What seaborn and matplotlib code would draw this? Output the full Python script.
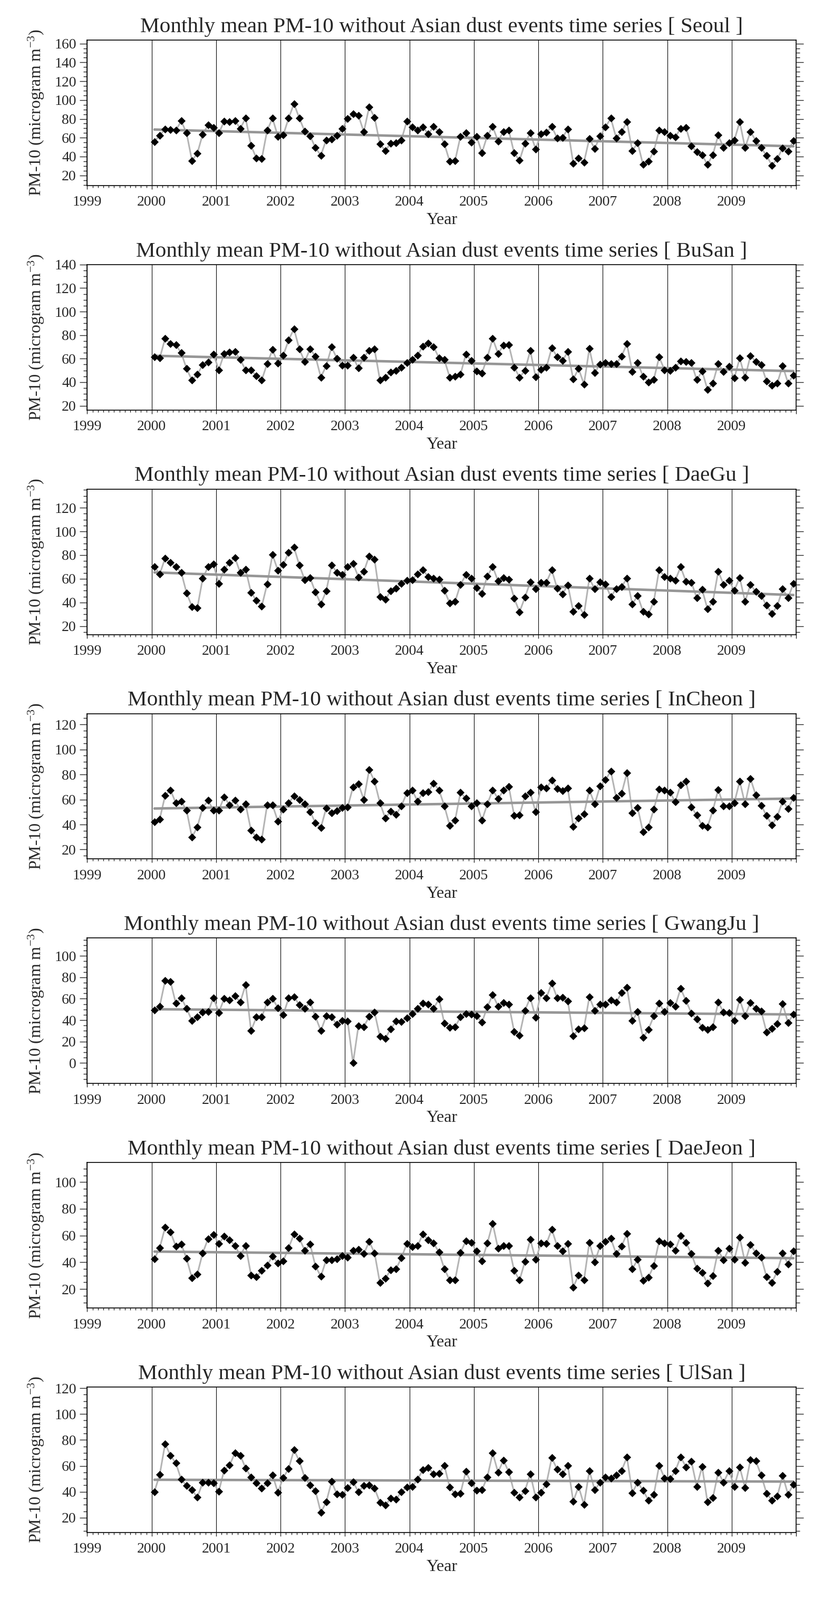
import numpy as np
import matplotlib
matplotlib.use('Agg')
import matplotlib.pyplot as plt
from matplotlib.ticker import MultipleLocator
import seaborn as sns

# monthly means, Jan 2000 - Dec 2009
seoul = [55.9, 62.4, 69.3, 68.4, 67.7, 77.8, 64.9, 35.7, 43.4, 63.7, 73.6, 70.5,
         64.9, 77.4, 77.0, 78.1, 69.9, 80.7, 51.6, 38.3, 37.6, 67.7, 80.7, 61.5,
         62.8, 80.7, 96.1, 80.7, 66.7, 61.9, 49.3, 41.3, 57.6, 58.7, 62.1, 69.5,
         80.2, 85.2, 83.7, 66.2, 92.7, 81.5, 53.5, 46.2, 54.0, 54.4, 57.6, 77.4,
         71.4, 68.0, 71.4, 63.9, 71.8, 66.5, 53.5, 34.8, 35.7, 61.3, 64.9, 55.0,
         61.5, 44.1, 62.1, 71.8, 56.4, 66.5, 67.7, 43.7, 35.9, 54.0, 64.9, 48.0,
         64.3, 65.8, 71.8, 59.6, 60.2, 69.3, 32.9, 38.1, 34.0, 59.1, 48.4, 61.7,
         71.2, 80.7, 59.8, 66.2, 76.8, 46.2, 54.4, 31.4, 34.8, 45.6, 68.0, 66.2,
         62.1, 60.6, 69.9, 70.5, 51.2, 45.0, 41.5, 31.6, 41.9, 62.8, 49.3, 54.6,
         57.4, 76.8, 49.3, 66.5, 56.8, 49.3, 40.9, 30.7, 37.8, 49.0, 45.6, 56.8]

busan = [61.3, 60.4, 77.2, 72.8, 71.7, 64.9, 51.5, 41.6, 46.5, 54.8, 56.9, 63.9,
         50.5, 64.3, 65.3, 66.1, 59.1, 50.3, 50.3, 45.3, 41.9, 55.7, 67.6, 56.0,
         62.7, 75.8, 85.4, 68.0, 57.5, 68.3, 61.9, 44.2, 53.9, 69.8, 60.1, 54.2,
         54.2, 61.2, 52.0, 61.2, 66.8, 68.0, 41.9, 44.2, 48.6, 49.7, 52.7, 56.7,
         59.4, 62.8, 70.5, 73.2, 70.1, 60.6, 59.1, 44.2, 45.0, 46.5, 63.6, 58.4,
         49.3, 47.8, 60.9, 77.2, 64.3, 71.3, 71.6, 52.7, 44.2, 49.7, 66.8, 44.4,
         50.8, 52.7, 69.1, 61.6, 58.4, 65.8, 42.6, 51.5, 38.2, 68.6, 48.0, 55.4,
         56.4, 55.7, 55.7, 62.1, 72.5, 49.0, 56.4, 45.0, 39.8, 42.3, 61.3, 50.5,
         49.7, 52.7, 57.9, 57.5, 56.4, 42.0, 49.5, 33.7, 39.3, 55.7, 49.0, 53.2,
         43.5, 60.4, 43.8, 62.4, 57.5, 54.7, 40.8, 37.1, 39.3, 53.9, 39.3, 46.0]

daegu = [70.4, 64.0, 77.4, 73.7, 70.0, 65.5, 48.1, 36.5, 35.3, 60.3, 70.0, 72.2,
         55.8, 68.0, 73.7, 77.9, 65.1, 68.0, 48.4, 41.7, 36.8, 55.5, 80.4, 67.0,
         71.9, 82.3, 86.6, 71.5, 59.1, 60.7, 48.7, 38.7, 49.6, 71.5, 65.5, 63.6,
         70.0, 72.9, 61.5, 66.0, 79.3, 76.4, 44.7, 42.4, 49.6, 51.8, 56.1, 58.5,
         59.1, 64.0, 67.4, 61.8, 60.3, 59.6, 50.2, 39.5, 40.7, 55.1, 63.3, 60.3,
         52.4, 47.4, 62.2, 70.3, 58.1, 61.0, 59.6, 43.6, 32.0, 44.2, 57.3, 51.7,
         57.0, 57.0, 67.4, 52.1, 47.2, 54.6, 32.3, 37.2, 29.8, 60.3, 51.4, 57.3,
         55.4, 44.7, 51.7, 53.3, 60.3, 38.7, 45.7, 32.3, 30.2, 40.7, 67.7, 61.8,
         60.6, 58.8, 70.0, 57.6, 57.0, 43.9, 50.9, 34.6, 40.7, 66.3, 55.1, 58.4,
         50.2, 61.0, 40.7, 55.1, 49.1, 45.7, 37.5, 30.5, 37.2, 51.4, 43.9, 55.8]

incheon = [41.9, 44.4, 63.1, 67.6, 57.1, 58.5, 51.4, 29.7, 38.1, 53.5, 59.2, 51.4,
           51.4, 62.0, 55.6, 59.2, 52.1, 56.3, 35.3, 29.7, 28.3, 55.4, 55.6, 42.7,
           52.1, 57.1, 62.9, 59.9, 56.3, 50.3, 41.3, 37.4, 53.1, 49.3, 51.0, 53.5,
           54.0, 70.0, 72.5, 59.9, 83.7, 74.6, 57.3, 45.1, 50.7, 47.9, 54.9, 65.1,
           67.6, 58.7, 65.1, 66.2, 72.8, 67.6, 54.9, 39.1, 43.4, 65.5, 61.0, 54.9,
           57.1, 43.3, 56.3, 67.6, 60.6, 67.2, 70.4, 47.2, 47.5, 62.7, 65.5, 50.0,
           70.0, 69.0, 75.6, 68.6, 66.9, 69.0, 38.4, 45.1, 48.3, 67.6, 56.3, 70.8,
           75.7, 82.6, 61.5, 64.8, 81.3, 49.3, 53.5, 33.9, 38.1, 52.1, 68.3, 67.6,
           65.9, 58.2, 71.8, 74.6, 54.0, 47.5, 39.1, 38.1, 51.2, 68.0, 54.9, 54.9,
           57.3, 74.6, 56.3, 76.7, 63.4, 55.2, 47.2, 39.5, 46.5, 58.7, 52.8, 61.5]

gwangju = [49.4, 53.1, 76.9, 76.1, 55.6, 60.9, 51.0, 39.5, 42.8, 47.4, 47.7, 60.9,
           47.1, 60.0, 58.9, 62.5, 56.9, 73.2, 30.1, 42.8, 42.8, 56.9, 60.2, 51.5,
           44.9, 60.5, 61.7, 54.3, 51.0, 56.9, 43.3, 30.1, 43.8, 42.8, 35.9, 39.7,
           38.9, 0.0, 34.6, 33.9, 43.3, 47.4, 24.7, 22.8, 31.8, 38.9, 38.7, 42.1,
           46.2, 51.0, 55.9, 54.8, 51.0, 59.7, 37.2, 33.4, 33.8, 42.8, 46.1, 45.7,
           43.8, 37.9, 52.3, 63.8, 53.1, 56.1, 54.8, 29.3, 26.0, 49.0, 60.9, 42.5,
           65.8, 60.9, 74.5, 60.9, 61.0, 57.6, 25.2, 31.8, 32.6, 61.7, 49.0, 54.8,
           54.8, 58.9, 56.7, 65.5, 70.7, 39.5, 47.7, 23.6, 31.3, 43.8, 55.6, 47.7,
           56.1, 53.1, 69.6, 58.1, 46.6, 40.8, 33.4, 31.0, 33.9, 56.7, 47.4, 47.1,
           39.7, 59.2, 44.1, 56.4, 50.7, 48.5, 28.8, 32.1, 36.4, 55.1, 37.5, 45.7]

daejeon = [42.4, 50.9, 66.1, 62.5, 52.0, 53.6, 42.8, 28.2, 31.2, 47.0, 57.5, 60.8,
           53.8, 59.5, 56.8, 52.5, 45.0, 52.5, 30.5, 29.2, 33.8, 37.8, 44.6, 39.3,
           41.1, 50.7, 61.1, 57.8, 48.9, 53.6, 37.1, 29.5, 41.7, 41.7, 42.6, 45.0,
           43.9, 48.9, 49.6, 46.3, 55.5, 47.0, 24.6, 27.9, 34.1, 34.9, 43.3, 53.8,
           51.6, 52.2, 61.1, 56.8, 54.2, 47.6, 35.1, 26.8, 26.8, 47.4, 55.8, 54.9,
           48.3, 41.1, 54.2, 69.1, 50.3, 52.2, 52.2, 33.8, 26.6, 40.4, 57.2, 42.0,
           54.2, 53.8, 64.7, 52.2, 48.6, 53.8, 21.3, 30.5, 26.6, 54.9, 40.1, 52.2,
           55.5, 57.8, 46.3, 52.0, 61.4, 35.1, 42.0, 26.3, 28.6, 37.5, 55.8, 54.2,
           53.6, 48.9, 59.9, 54.9, 46.3, 35.4, 32.2, 24.3, 29.9, 48.9, 41.7, 50.3,
           42.0, 58.6, 39.7, 53.3, 47.0, 43.7, 29.2, 24.9, 33.2, 46.7, 38.7, 48.6]

ulsan = [40.0, 53.3, 77.0, 68.0, 62.1, 49.6, 44.7, 41.5, 35.7, 47.2, 47.2, 46.8,
         40.4, 56.7, 60.5, 69.9, 68.0, 58.3, 51.3, 46.8, 42.7, 46.8, 53.0, 39.7,
         50.9, 57.8, 72.3, 63.7, 50.9, 45.2, 40.8, 24.1, 32.0, 47.9, 38.1, 37.7,
         43.1, 47.6, 40.0, 44.7, 45.2, 42.7, 31.9, 29.6, 35.0, 34.3, 40.0, 43.5,
         43.8, 49.5, 57.0, 58.7, 53.7, 54.0, 60.4, 43.4, 38.4, 38.8, 55.7, 46.8,
         41.1, 41.4, 51.3, 69.9, 55.1, 64.4, 55.3, 39.7, 35.7, 40.8, 53.7, 35.9,
         39.7, 46.2, 66.2, 57.4, 53.6, 60.4, 32.7, 44.1, 30.0, 56.3, 41.4, 47.2,
         51.3, 50.3, 52.9, 56.3, 66.6, 39.3, 47.2, 41.1, 33.6, 37.7, 60.4, 50.6,
         49.9, 56.0, 66.9, 59.1, 63.5, 44.1, 59.4, 32.0, 35.3, 55.1, 47.2, 56.0,
         44.1, 59.1, 43.1, 64.8, 63.7, 52.9, 38.8, 33.6, 36.6, 52.6, 38.0, 45.8]

cities = ['Seoul', 'BuSan', 'DaeGu', 'InCheon', 'GwangJu', 'DaeJeon', 'UlSan']
series = [seoul, busan, daegu, incheon, gwangju, daejeon, ulsan]
ylims = [(9.2, 163.7), (16.3, 140), (12.9, 135.8), (12.4, 128.7),
         (-19.2, 116.7), (5.8, 114.6), (8.6, 120.8)]
ytick_top = [160, 140, 120, 120, 100, 100, 120]
ytick_bottom = [20, 20, 20, 20, 0, 20, 20]
years = list(range(1999, 2011))

month_idx = np.arange(120)
t = 2000 + (month_idx + 0.5) / 12.0

sns.set_style('ticks')
plt.rcParams['font.family'] = ['Liberation Serif', 'DejaVu Serif']
plt.rcParams['mathtext.fontset'] = 'custom'
plt.rcParams['mathtext.rm'] = 'Liberation Serif'
plt.rcParams['mathtext.default'] = 'regular'

fig, axes = plt.subplots(7, 1, figsize=(15.61, 30.35), dpi=100)
fig.subplots_adjust(left=0.106, right=0.9673, top=0.97496, bottom=0.04217, hspace=0.543)

for ax, city, vals, yl, ytop, ybot in zip(axes, cities, series, ylims, ytick_top, ytick_bottom):
    vals = np.array(vals)
    sns.lineplot(x=t, y=vals, ax=ax, color='#b4b4b4', lw=2.2, zorder=2)
    sns.regplot(x=t, y=vals, ax=ax, scatter=False, ci=None, truncate=True,
                line_kws={'color': '#969696', 'lw': 3.4, 'zorder': 3})
    sns.scatterplot(x=t, y=vals, ax=ax, marker='D', s=50, color='black',
                    edgecolor='black', linewidth=0.6, zorder=4)

    ax.set_xlim(1999, 2010)
    ax.set_ylim(*yl)
    ax.set_xticks(years, labels=[str(y) for y in years[:-1]] + [''])
    ax.xaxis.set_minor_locator(MultipleLocator(1 / 12))
    ax.set_yticks(list(range(ybot, ytop + 1, 20)))
    ax.yaxis.set_minor_locator(MultipleLocator(5))
    ax.grid(axis='x', which='major', color='black', lw=0.8)

    ax.tick_params(which='both', direction='out', right=True, top=False, labelsize=20, width=1.0)
    ax.tick_params(axis='y', which='major', length=10, pad=5)
    ax.tick_params(axis='y', which='minor', length=5)
    ax.tick_params(axis='x', which='major', length=5, pad=9)
    ax.tick_params(axis='x', which='minor', length=3)
    for sp in ax.spines.values():
        sp.set_linewidth(1.2)
        sp.set_color('black')

    ax.set_title(f'Monthly mean PM-10 without Asian dust events time series [ {city} ]',
                 fontsize=29.7, pad=11)
    ax.set_xlabel('Year', fontsize=23)
    ax.set_ylabel(r'PM-10 (microgram m$^{-3}$)', fontsize=23)
    ax.xaxis.set_label_coords(0.5, -0.185)
    ax.yaxis.set_label_coords(-0.0584, 0.5)

fig.savefig('out.png', dpi=100, facecolor='white')
